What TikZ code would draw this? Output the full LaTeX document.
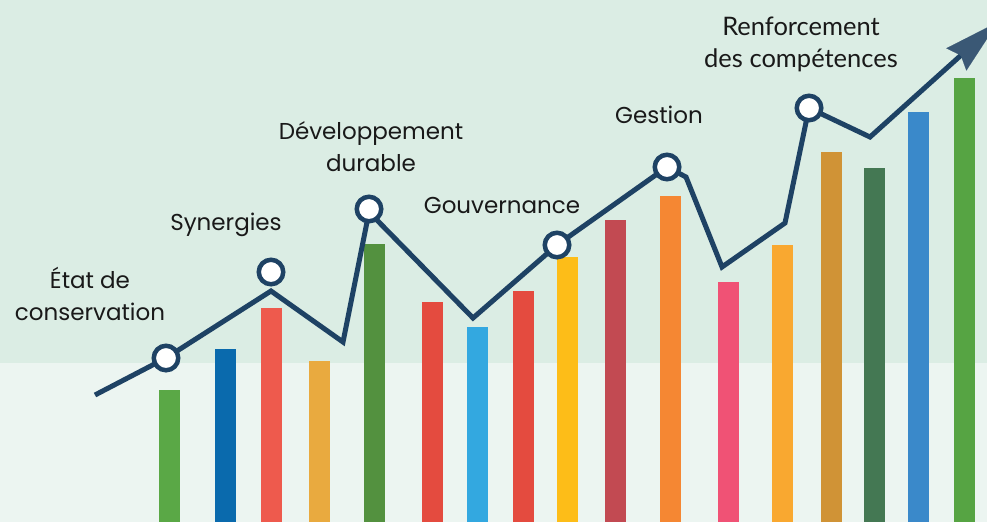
\documentclass[tikz,border=0pt]{standalone}
\usepackage{fontspec}
\setmainfont{Poppins}
\newfontfamily\gillfont{Lato}
\usetikzlibrary{positioning,arrows.meta}

\definecolor{bgtop}{HTML}{DBEDE4}
\definecolor{bgbot}{HTML}{ECF5F1}
\definecolor{trend}{HTML}{1E4264}
\definecolor{tiphead}{HTML}{3A5875}
\definecolor{sdgA}{HTML}{5AA846}
\definecolor{sdgB}{HTML}{0A6AAD}
\definecolor{sdgC}{HTML}{EE5A4D}
\definecolor{sdgD}{HTML}{E9AA3F}
\definecolor{sdgE}{HTML}{53913F}
\definecolor{sdgF}{HTML}{E44B3F}
\definecolor{sdgG}{HTML}{33A8E0}
\definecolor{sdgH}{HTML}{FDBD18}
\definecolor{sdgI}{HTML}{C24A52}
\definecolor{sdgJ}{HTML}{F58733}
\definecolor{sdgK}{HTML}{F05275}
\definecolor{sdgL}{HTML}{F9A830}
\definecolor{sdgM}{HTML}{D09336}
\definecolor{sdgN}{HTML}{447853}
\definecolor{sdgO}{HTML}{3A89CA}
\definecolor{sdgP}{HTML}{56A443}

\begin{document}
\begin{tikzpicture}[x=1pt,y=-1pt,
    tag/.style={align=center, inner sep=0pt, anchor=base, text=black!90, font=\fontsize{23}{32}\selectfont},
    dot/.style={circle, draw=trend, fill=white, line width=4.5pt, minimum size=24.5pt, inner sep=0pt},
    trendline/.style={draw=trend, line width=5pt, line join=miter}]
        \useasboundingbox (0,0) rectangle (987,522);
        \clip (0,0) rectangle (987,522);
        % Background
        \fill[bgtop] (0,0) rectangle (987,363);
        \fill[bgbot] (0,363) rectangle (987,522);
        
        % Bars
        \foreach \x/\top/\col in {159/390/sdgA, 215/349/sdgB, 261/308/sdgC, 309/361/sdgD,
            364/244/sdgE, 422/302/sdgF, 467/327/sdgG, 513/291/sdgF, 557/257/sdgH,
            605/220/sdgI, 660/196/sdgJ, 718/282/sdgK, 772/245/sdgL, 821/152/sdgM,
            864/168/sdgN, 908/112/sdgO, 954/78/sdgP}
            \fill[\col] (\x,\top) rectangle ({\x+21},522);
        
        % Line points
        \coordinate (start) at (95,395);
        \coordinate (p1) at (166,358);
        \coordinate (p2) at (271,291);
        \coordinate (p3) at (343,342);
        \coordinate (p4) at (369,212);
        \coordinate (p5) at (473,318);
        \coordinate (p6) at (557,245);
        \coordinate (p7) at (667,167);
        \coordinate (p8) at (686,177);
        \coordinate (p9) at (722,267);
        \coordinate (p10) at (785,223);
        \coordinate (p11) at (809,108);
        \coordinate (p12) at (870,137);
        \coordinate (tip) at (998,22);
        
        % Arrow
        \draw[trendline, -{Stealth[length=56pt, width=30pt, inset=6pt, line width=0.1pt, color=tiphead]}]
            (start) -- (p1) -- (p2) -- (p3) -- (p4) -- (p5) -- (p6) -- (p7) -- (p8)
            -- (p9) -- (p10) -- (p11) -- (p12) -- (tip);
        
        % Milestones
        \node[dot] (etatdot) at (p1) {};
        \node[dot] (synergiesdot) at (271,272) {};
        \node[dot] (devdot) at (369,209) {};
        \node[dot] (gouvdot) at (p6) {};
        \node[dot] (gestiondot) at (p7) {};
        \node[dot] (renfodot) at (p11) {};
        
        % Labels (base = last line)
        \node[tag] (etat) at (90,320) {État de\\conservation};
        \node[tag] (synergies) at (226,230) {Synergies};
        \node[tag] (devdur) at (371,171) {Développement\\durable};
        \node[tag] (gouv) at (502,213) {Gouvernance};
        \node[tag] (gestion) at (659,123) {Gestion};
        \node[tag, font=\gillfont\fontsize{25.5}{32}\selectfont] (renfo) at (801,67) {Renforcement\\des compétences};
        
\end{tikzpicture}
\end{document}
